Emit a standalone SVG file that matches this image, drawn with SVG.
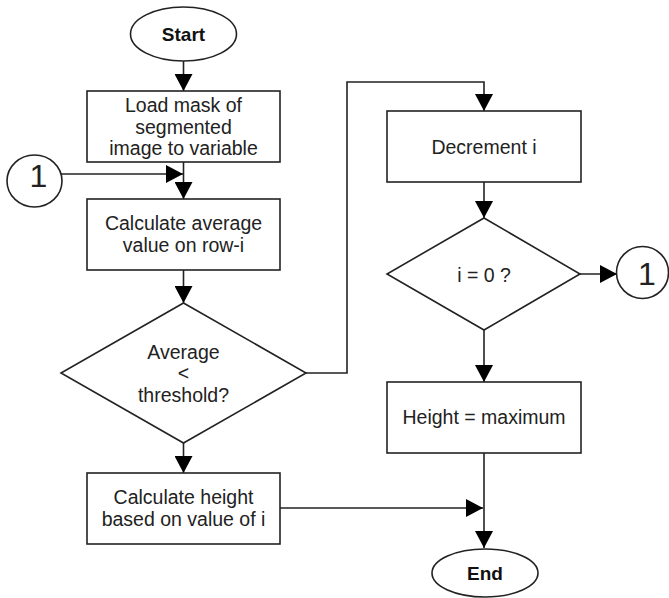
<svg xmlns="http://www.w3.org/2000/svg" width="669" height="598" viewBox="0 0 669 598">
<style>
.s{fill:#fff;stroke:#222;stroke-width:1.6}
.c{fill:none;stroke:#222;stroke-width:1.6}
.t{font-family:"Liberation Sans",Arial,sans-serif;font-size:19.5px;fill:#222;text-anchor:middle}
.b{font-weight:bold;font-size:19px;fill:#111}
.n{font-size:32px}
</style>
<defs>
<marker id="ah" markerUnits="userSpaceOnUse" markerWidth="17" markerHeight="18" refX="17" refY="9" orient="auto" viewBox="0 0 17 18">
<path d="M0,0 L17,9 L0,18 Z" fill="#000"/>
</marker>
</defs>
<rect width="669" height="598" fill="#fff"/>
<g id="connectors">
<line class="c" x1="183.5" y1="61" x2="183.5" y2="91" marker-end="url(#ah)"/>
<line class="c" x1="183.5" y1="162" x2="183.5" y2="199" marker-end="url(#ah)"/>
<line class="c" x1="61" y1="174" x2="183" y2="174" marker-end="url(#ah)"/>
<line class="c" x1="183.5" y1="270" x2="183.5" y2="303" marker-end="url(#ah)"/>
<line class="c" x1="183.5" y1="443" x2="183.5" y2="473" marker-end="url(#ah)"/>
<path class="c" d="M306,373 H347 V82 H484 V111" marker-end="url(#ah)"/>
<line class="c" x1="484" y1="182" x2="484" y2="218" marker-end="url(#ah)"/>
<line class="c" x1="580" y1="274" x2="617" y2="274" marker-end="url(#ah)"/>
<line class="c" x1="484" y1="330" x2="484" y2="382" marker-end="url(#ah)"/>
<line class="c" x1="484" y1="453" x2="484" y2="548" marker-end="url(#ah)"/>
<line class="c" x1="280" y1="508" x2="483" y2="508" marker-end="url(#ah)"/>
</g>
<g id="start">
<ellipse class="s" cx="183.5" cy="34" rx="53" ry="27"/>
<text class="t b" x="183.5" y="41">Start</text>
</g>
<g id="load">
<rect class="s" x="87" y="91" width="193" height="71"/>
<text class="t" x="183.5" y="112">Load mask of</text>
<text class="t" x="183.5" y="134">segmented</text>
<text class="t" x="183.5" y="155">image to variable</text>
</g>
<g id="conn-left">
<ellipse class="s" cx="34.5" cy="181" rx="27.5" ry="26"/>
<text class="t n" x="38.5" y="187">1</text>
</g>
<g id="calc-avg">
<rect class="s" x="87" y="199" width="193" height="71"/>
<text class="t" x="183.5" y="230">Calculate average</text>
<text class="t" x="183.5" y="252">value on row-i</text>
</g>
<g id="threshold">
<polygon class="s" points="183.5,303 306,373 183.5,443 61,373"/>
<text class="t" x="183.5" y="359">Average</text>
<text class="t" x="183.5" y="380">&lt;</text>
<text class="t" x="183.5" y="402">threshold?</text>
</g>
<g id="calc-height">
<rect class="s" x="87" y="473" width="193" height="71"/>
<text class="t" x="183.5" y="504">Calculate height</text>
<text class="t" x="183.5" y="526">based on value of i</text>
</g>
<g id="decrement">
<rect class="s" x="387" y="111" width="194" height="71"/>
<text class="t" x="484" y="154">Decrement i</text>
</g>
<g id="izero">
<polygon class="s" points="484,218 580,274 484,330 387,274"/>
<text class="t" x="484" y="282">i = 0 ?</text>
</g>
<g id="conn-right">
<ellipse class="s" cx="642.5" cy="272.5" rx="26" ry="26"/>
<text class="t n" x="647" y="285">1</text>
</g>
<g id="height-max">
<rect class="s" x="387" y="382" width="194" height="71"/>
<text class="t" x="484" y="424">Height = maximum</text>
</g>
<g id="end">
<ellipse class="s" cx="485" cy="573" rx="53" ry="24"/>
<text class="t b" x="485" y="580">End</text>
</g>
</svg>
